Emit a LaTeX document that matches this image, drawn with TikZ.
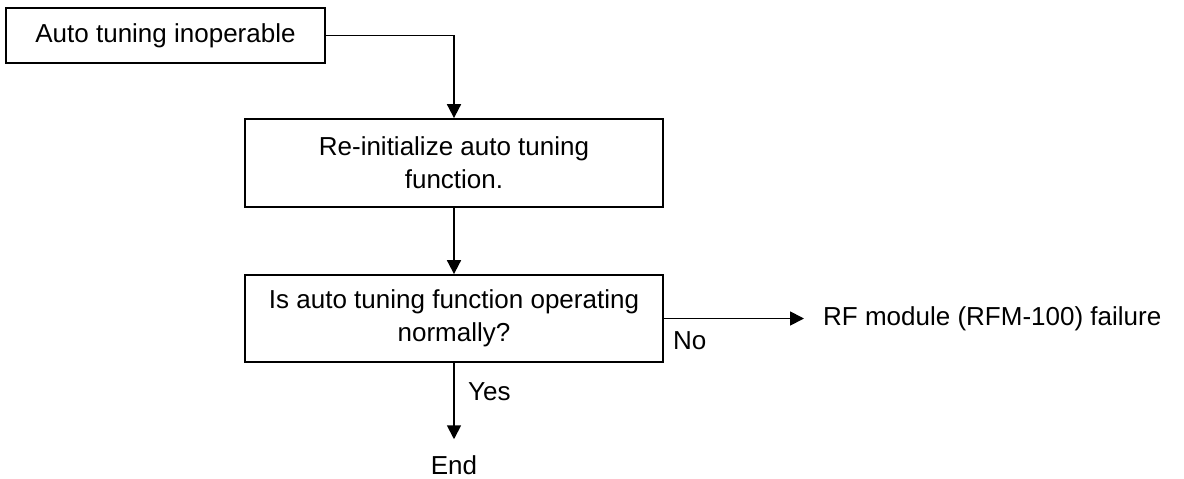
\documentclass[tikz,border=0pt]{standalone}
\usepackage{fontspec}
\setmainfont{Liberation Sans}
\usetikzlibrary{arrows.meta}
\begin{document}
\begin{tikzpicture}[x=1pt,y=-1pt,
  every node/.style={font=\fontsize{26}{33}\selectfont},
  box/.style={draw,line width=1.8pt,minimum width=#1,align=center,inner sep=0pt},
  lbl/.style={inner sep=0pt},
  arr/.style={line width=1.8pt,-{Triangle[length=14pt,width=14pt]}}]
\useasboundingbox (0,0) rectangle (1184,479);
\node[box=319pt,minimum height=55pt] (b1) at (165.5,35.5) {Auto tuning inoperable};
\node[box=418pt,minimum height=88pt] (b2) at (454,163) {Re-initialize auto tuning\\function.};
\node[box=418pt,minimum height=87pt] (b3) at (454,318.5) {Is auto tuning function operating\\normally?};
\node[lbl,anchor=west] (rf) at (823,319) {RF module (RFM-100) failure};
\node[lbl] (end) at (454,465) {End};
\node[lbl,anchor=west] (yes) at (468,392) {Yes};
\node[lbl,anchor=west] (no) at (673,341) {No};
\draw[arr] (b1.east) -| (b2.north);
\draw[arr] (b2.south) -- (b3.north);
\draw[arr,shorten >=19pt] (b3.east) -- (b3.east -| rf.west);
\draw[arr,shorten >=16pt] (b3.south) -- (end.north);
\end{tikzpicture}
\end{document}
